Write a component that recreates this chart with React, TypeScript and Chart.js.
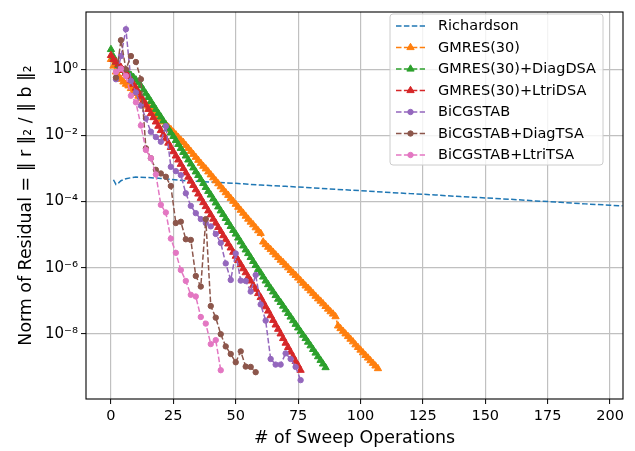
import React, { useEffect, useRef } from "react";
import { Chart, registerables } from "chart.js";
Chart.register(...registerables);

// ---------- data (residual values stored as log10 exponents) ----------
const xTickValues = [0, 25, 50, 75, 100, 125, 150, 175, 200];
const yTickExponents = [0, -2, -4, -6, -8];

const seriesNames = [
  "Richardson",
  "GMRES(30)",
  "GMRES(30)+DiagDSA",
  "GMRES(30)+LtriDSA",
  "BiCGSTAB",
  "BiCGSTAB+DiagTSA",
  "BiCGSTAB+LtriTSA",
];
const seriesColors = ["#1f77b4", "#ff7f0e", "#2ca02c", "#d62728", "#9467bd", "#8c564b", "#e377c2"];
const seriesMarkers = ["none", "triangle", "triangle", "triangle", "circle", "circle", "circle"];

const richardsonSweeps = [1, 2, 3, 4, 6, 8, 10, 14, 20, 30, 40, 50, 60, 70, 80, 90, 100, 110, 120, 130, 140, 150, 160, 170, 180, 190, 200, 205];
const richardsonExp = [-3.34, -3.48, -3.44, -3.37, -3.31, -3.28, -3.26, -3.27, -3.30, -3.37, -3.41, -3.45, -3.50, -3.54, -3.58, -3.63, -3.67, -3.72, -3.76, -3.80, -3.85, -3.89, -3.93, -3.98, -4.02, -4.07, -4.11, -4.13];

// GMRES series: one value per sweep, starting at sweep 0
const gmresExp = [
  0.30, 0.10, -0.08, -0.20, -0.30, -0.38, -0.45, -0.50, -0.58, -0.66,
  -0.73, -0.81, -0.89, -0.97, -1.05, -1.12, -1.20, -1.28, -1.36, -1.43,
  -1.51, -1.59, -1.67, -1.75, -1.82, -1.90, -1.98, -2.06, -2.14, -2.21,
  -2.30, -2.39, -2.48, -2.57, -2.66, -2.75, -2.84, -2.93, -3.01, -3.10,
  -3.19, -3.28, -3.37, -3.46, -3.55, -3.64, -3.73, -3.81, -3.90, -3.99,
  -4.08, -4.17, -4.26, -4.35, -4.44, -4.53, -4.62, -4.70, -4.79, -4.88,
  -4.96, -5.22, -5.30, -5.38, -5.45, -5.53, -5.61, -5.69, -5.77, -5.84,
  -5.92, -6.00, -6.08, -6.16, -6.23, -6.31, -6.39, -6.47, -6.55, -6.62,
  -6.70, -6.78, -6.86, -6.94, -7.01, -7.09, -7.17, -7.25, -7.33, -7.40,
  -7.48, -7.76, -7.84, -7.92, -8.00, -8.08, -8.16, -8.24, -8.33, -8.41,
  -8.49, -8.57, -8.65, -8.73, -8.81, -8.89, -8.97, -9.05,
];
const gmresDiagExp = [
  0.60, 0.38, 0.22, 0.12, 0.04, -0.03, -0.08, -0.13, -0.18, -0.24,
  -0.32, -0.40, -0.50, -0.62, -0.74, -0.85, -0.97, -1.09, -1.21, -1.33,
  -1.44, -1.56, -1.68, -1.80, -1.92, -2.03, -2.15, -2.27, -2.39, -2.51,
  -2.62, -2.74, -2.86, -2.98, -3.10, -3.21, -3.33, -3.45, -3.57, -3.69,
  -3.80, -3.92, -4.04, -4.16, -4.28, -4.39, -4.51, -4.63, -4.75, -4.87,
  -4.98, -5.10, -5.22, -5.34, -5.46, -5.57, -5.69, -5.81, -5.93, -6.05,
  -6.16, -6.28, -6.40, -6.51, -6.62, -6.73, -6.84, -6.95, -7.05, -7.16,
  -7.27, -7.38, -7.49, -7.60, -7.71, -7.82, -7.93, -8.04, -8.14, -8.25,
  -8.36, -8.47, -8.58, -8.69, -8.80, -8.91, -9.02,
];
const gmresLtriExp = [
  0.42, 0.30, 0.22, 0.15, 0.06, -0.03, -0.12, -0.22, -0.33, -0.45,
  -0.57, -0.70, -0.83, -0.95, -1.08, -1.21, -1.34, -1.46, -1.59, -1.72,
  -1.85, -1.98, -2.10, -2.23, -2.36, -2.49, -2.62, -2.74, -2.87, -3.00,
  -3.13, -3.26, -3.38, -3.51, -3.64, -3.77, -3.90, -4.03, -4.15, -4.28,
  -4.40, -4.53, -4.65, -4.78, -4.90, -5.03, -5.15, -5.28, -5.40, -5.53,
  -5.65, -5.78, -5.90, -6.03, -6.15, -6.28, -6.40, -6.53, -6.65, -6.78,
  -6.90, -7.04, -7.18, -7.31, -7.45, -7.59, -7.73, -7.86, -8.00, -8.14,
  -8.28, -8.41, -8.55, -8.69, -8.83, -8.96, -9.10,
];

// BiCGSTAB series: two sweeps per iteration
const bicgSweeps = [2, 4, 6, 8, 10, 12, 14, 16, 18, 20, 22, 24, 26, 28, 30, 32, 34, 36, 38, 40, 42, 44, 46, 48, 50, 52, 54, 56, 58, 60, 62, 64, 66, 68, 70, 72, 74, 76];
const bicgExp = [
  -0.30, 0.40, 1.21, -0.35, -0.70, -1.10, -1.49, -1.89, -2.05, -2.19,
  -1.72, -2.95, -3.08, -3.20, -3.75, -4.13, -4.35, -4.53, -4.65, -4.75,
  -4.98, -5.25, -5.87, -6.37, -5.57, -6.39, -6.40, -6.72, -6.22, -7.11,
  -7.60, -8.76, -8.93, -8.93, -8.59, -8.76, -9.00, -9.40,
];
const bicgDiagExp = [
  -0.25, 0.88, 0.00, 0.40, 0.22, -0.30, -2.39, -2.69, -3.04, -3.15,
  -3.25, -3.53, -4.65, -4.61, -5.14, -5.16, -6.25, -6.57, -4.53, -7.16,
  -7.51, -8.01, -8.38, -8.61, -8.86, -8.53, -8.99, -9.00, -9.16,
];
const bicgLtriExp = [
  -0.08, 0.02, -0.20, -0.80, -1.00, -1.70, -2.44, -2.69, -3.18, -4.10,
  -4.33, -5.12, -5.55, -6.07, -6.40, -6.82, -6.87, -7.49, -7.69, -8.31,
  -8.19, -9.10,
];

const superscripts: Record<string, string> = {
  "0": "\u2070", "1": "\u00b9", "2": "\u00b2", "3": "\u00b3", "4": "\u2074",
  "5": "\u2075", "6": "\u2076", "7": "\u2077", "8": "\u2078", "9": "\u2079", "-": "\u207b",
};
const pow10Label = (e: number) => "10" + String(e).split("").map((c) => superscripts[c] || c).join("");

const FONT = "DejaVu Sans";
const DASH = [5.5, 2.4];
const TRI_R = 4.2;
const CIRC_R = 2.7;

function drawMarker(ctx: CanvasRenderingContext2D, kind: string, x: number, y: number, color: string) {
  ctx.save();
  ctx.setLineDash([]);
  ctx.fillStyle = color;
  ctx.strokeStyle = color;
  ctx.lineWidth = 1;
  ctx.beginPath();
  if (kind === "triangle") {
    const r = TRI_R;
    ctx.moveTo(x, y - r);
    ctx.lineTo(x + 0.866 * r, y + 0.5 * r);
    ctx.lineTo(x - 0.866 * r, y + 0.5 * r);
    ctx.closePath();
  } else if (kind === "circle") {
    ctx.arc(x, y, CIRC_R, 0, Math.PI * 2);
  }
  ctx.fill();
  ctx.stroke();
  ctx.restore();
}

const framePlugin = {
  id: "frameAndLegend",
  afterDatasetsDraw(chart: any) {
    const { ctx, chartArea } = chart;
    ctx.save();
    ctx.strokeStyle = "#000";
    ctx.lineWidth = 1.1;
    ctx.setLineDash([]);
    ctx.strokeRect(chartArea.left, chartArea.top, chartArea.right - chartArea.left, chartArea.bottom - chartArea.top);

    // legend box (upper right, inside the axes)
    const bx = 390, by = 14, bw = 213, bh = 151, rad = 3;
    ctx.beginPath();
    ctx.moveTo(bx + rad, by);
    ctx.lineTo(bx + bw - rad, by);
    ctx.quadraticCurveTo(bx + bw, by, bx + bw, by + rad);
    ctx.lineTo(bx + bw, by + bh - rad);
    ctx.quadraticCurveTo(bx + bw, by + bh, bx + bw - rad, by + bh);
    ctx.lineTo(bx + rad, by + bh);
    ctx.quadraticCurveTo(bx, by + bh, bx, by + bh - rad);
    ctx.lineTo(bx, by + rad);
    ctx.quadraticCurveTo(bx, by, bx + rad, by);
    ctx.closePath();
    ctx.fillStyle = "rgba(255,255,255,0.8)";
    ctx.fill();
    ctx.strokeStyle = "#cccccc";
    ctx.lineWidth = 1;
    ctx.stroke();

    seriesNames.forEach((name, i) => {
      const y = 26 + i * 21.5;
      ctx.save();
      ctx.strokeStyle = seriesColors[i];
      ctx.lineWidth = 1.5;
      ctx.setLineDash(DASH);
      ctx.beginPath();
      ctx.moveTo(396, y);
      ctx.lineTo(425, y);
      ctx.stroke();
      ctx.restore();
      drawMarker(ctx, seriesMarkers[i], 410.5, y, seriesColors[i]);
      ctx.fillStyle = "#000";
      ctx.font = `14.5px "${FONT}"`;
      ctx.textBaseline = "middle";
      ctx.textAlign = "left";
      ctx.fillText(name, 438, y + 0.5);
    });
    ctx.restore();
  },
};

const toPoints = (xs: number[], es: number[]) => es.map((e, i) => ({ x: xs[i], y: Math.pow(10, e) }));
const toIndexPoints = (es: number[]) => es.map((e, i) => ({ x: i, y: Math.pow(10, e) }));

export default function App() {
  const ref = useRef<HTMLCanvasElement>(null);

  useEffect(() => {
    const canvas = ref.current;
    if (!canvas) return;
    const seriesData = [
      toPoints(richardsonSweeps, richardsonExp),
      toIndexPoints(gmresExp),
      toIndexPoints(gmresDiagExp),
      toIndexPoints(gmresLtriExp),
      toPoints(bicgSweeps, bicgExp),
      toPoints(bicgSweeps, bicgDiagExp),
      toPoints(bicgSweeps, bicgLtriExp),
    ];
    const datasets = seriesData.map((data, i) => {
      const marker = seriesMarkers[i];
      return {
        label: seriesNames[i],
        data,
        borderColor: seriesColors[i],
        backgroundColor: seriesColors[i],
        pointBackgroundColor: seriesColors[i],
        pointBorderColor: seriesColors[i],
        borderWidth: 1.5,
        borderDash: DASH,
        tension: 0,
        fill: false,
        pointStyle: marker === "none" ? "circle" : marker,
        pointRadius: marker === "none" ? 0 : marker === "triangle" ? TRI_R : CIRC_R,
        pointBorderWidth: 1,
        order: seriesNames.length - 1 - i,
      };
    });

    const tickFont = { family: FONT, size: 14.5 };
    const titleFont = { family: FONT, size: 17.4 };

    const chart = new Chart(canvas, {
      type: "line",
      data: { datasets } as any,
      plugins: [framePlugin],
      options: {
        animation: false,
        responsive: false,
        devicePixelRatio: 1,
        layout: { padding: { top: 7, right: 12, left: 0, bottom: 0 } },
        plugins: { legend: { display: false }, tooltip: { enabled: false } },
        events: [],
        scales: {
          x: {
            type: "linear",
            min: -10,
            max: 205.2,
            afterFit: (s: any) => { s.height = 52; },
            afterBuildTicks: (s: any) => { s.ticks = xTickValues.map((v) => ({ value: v })); },
            ticks: { font: tickFont, color: "#000", padding: 4, maxRotation: 0, autoSkip: false, callback: (v: any) => String(v) },
            grid: { color: "#c0c0c0", lineWidth: 1.2, tickColor: "#000", tickLength: 5, tickWidth: 1 },
            border: { display: false },
            title: { display: true, text: "# of Sweep Operations", font: titleFont, color: "#000", padding: { top: 0, bottom: 2 } },
          },
          y: {
            type: "logarithmic",
            min: 1.07e-10,
            max: 54,
            afterFit: (s: any) => { s.width = 86; },
            afterBuildTicks: (s: any) => { s.ticks = yTickExponents.map((e) => ({ value: Math.pow(10, e) })); },
            ticks: {
              font: { family: FONT, size: 15 },
              color: "#000",
              padding: 3,
              autoSkip: false,
              callback: (v: any) => pow10Label(Math.round(Math.log10(Number(v)))),
            },
            grid: { color: "#c0c0c0", lineWidth: 1.2, tickColor: "#000", tickLength: 5, tickWidth: 1 },
            border: { display: false },
            title: { display: true, text: "Norm of Residual = \u2016 r \u2016\u2082 / \u2016 b \u2016\u2082", font: titleFont, color: "#000", padding: { top: 16, bottom: 0 } },
          },
        },
      } as any,
    });
    return () => chart.destroy();
  }, []);

  return (
    <div style={{ position: "fixed", left: 0, top: 0, width: 635, height: 451, background: "#fff" }}>
      <canvas ref={ref} width={635} height={451} style={{ display: "block", width: 635, height: 451 }} />
    </div>
  );
}
